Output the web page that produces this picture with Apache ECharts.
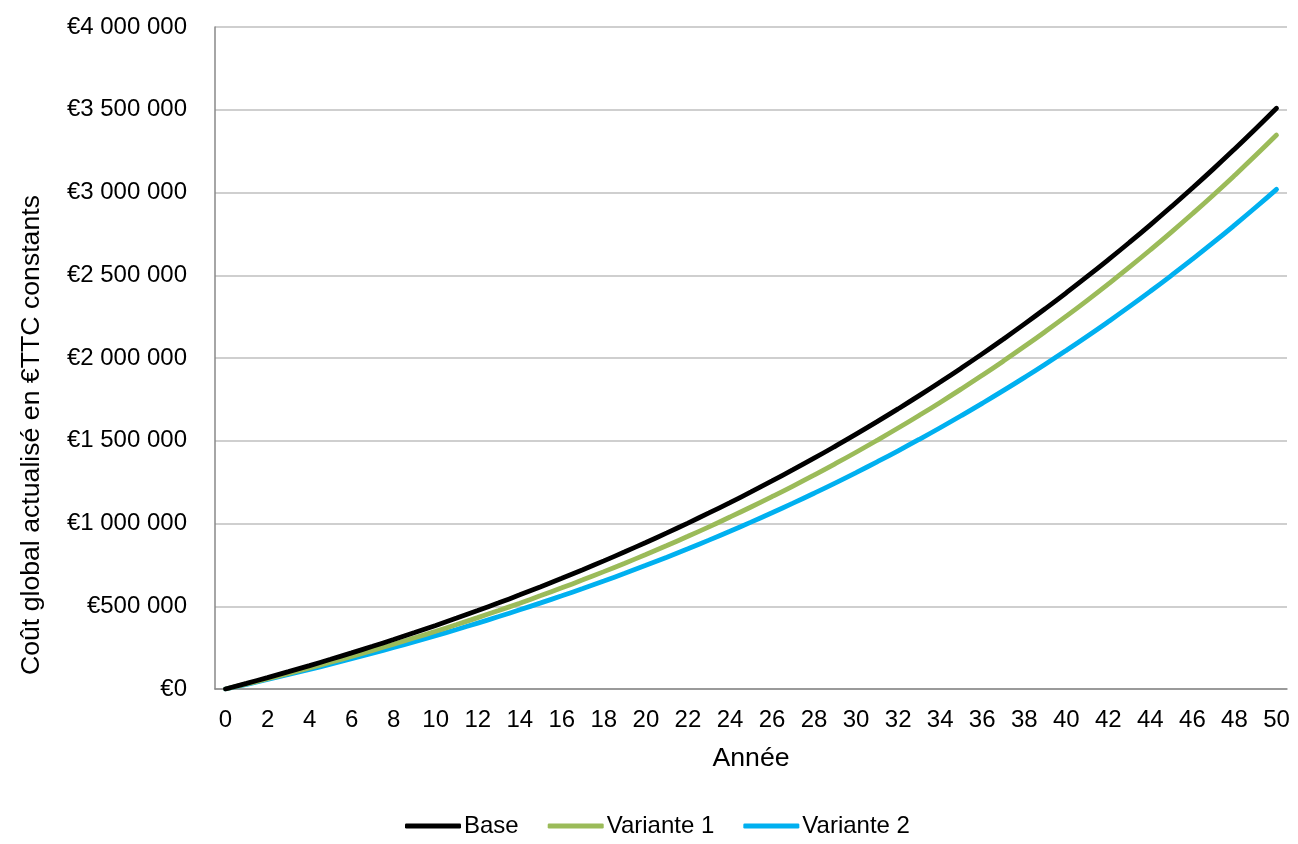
<!DOCTYPE html>
<html>
<head>
<meta charset="utf-8">
<script src="https://cdn.jsdelivr.net/npm/echarts@6/dist/echarts.min.js"></script>
<style>
html,body{margin:0;padding:0;background:#fff;}
#c{width:1298px;height:844px;}
</style>
</head>
<body>
<div id="c"></div>
<script>
const years = [];
for (let i = 0; i <= 50; i++) years.push(String(i));

const seriesNames = ['Base', 'Variante 1', 'Variante 2'];

const base = [0, 34000, 68900, 104700, 141500, 179300, 218100, 257900, 298900, 340900,
  384100, 428400, 474000, 520700, 568800, 618100, 668700, 720800, 774200, 829100,
  885400, 943300, 1002700, 1063800, 1126500, 1190900, 1257000, 1324900, 1394600, 1466300,
  1539800, 1615400, 1693000, 1772600, 1854500, 1938500, 2024800, 2113500, 2204500, 2298000,
  2394000, 2492600, 2593900, 2697900, 2804700, 2914400, 3027000, 3142700, 3261600, 3383600,
  3508900];

const variante1 = [0, 30600, 62000, 94400, 127700, 161900, 197200, 233500, 270800, 309200,
  348700, 389400, 431300, 474300, 518700, 564300, 611200, 659500, 709200, 760300,
  812900, 867000, 922700, 980000, 1039000, 1099700, 1162200, 1226400, 1292600, 1360600,
  1430600, 1502700, 1576800, 1653100, 1731600, 1812400, 1895500, 1981000, 2069000, 2159600,
  2252800, 2348700, 2447400, 2548900, 2653400, 2760900, 2871500, 2985300, 3102500, 3223000,
  3347000];

const variante2 = [0, 28400, 57600, 87600, 118400, 150100, 182700, 216200, 250600, 286000,
  322400, 359800, 398300, 437800, 478500, 520300, 563200, 607400, 652800, 699400,
  747400, 796700, 847400, 899500, 953100, 1008200, 1064800, 1123000, 1182800, 1244300,
  1307600, 1372600, 1439400, 1508100, 1578700, 1651300, 1725900, 1802600, 1881500, 1962500,
  2045900, 2131500, 2219600, 2310100, 2403200, 2498900, 2597200, 2698300, 2802300, 2909100,
  3019000];

const colors = ['#000000', '#9BBB59', '#00B0F0'];
const FONT = '"Liberation Sans", Arial, sans-serif';

function fmtEuro(v) {
  const s = Math.round(v).toString().replace(/\B(?=(\d{3})+(?!\d))/g, ' ');
  return '€' + s;
}

const chart = echarts.init(document.getElementById('c'), null, {renderer: 'canvas'});
const dataSets = [base, variante1, variante2];

chart.setOption({
  animation: false,
  backgroundColor: '#ffffff',
  textStyle: {fontFamily: FONT},
  grid: {left: 215, right: 11, top: 27, bottom: 155, containLabel: false},
  legend: {
    data: seriesNames,
    left: 400,
    top: 809,
    icon: 'roundRect',
    itemWidth: 56,
    itemHeight: 5,
    itemGap: 29,
    textStyle: {fontFamily: FONT, fontSize: 24, color: '#000', padding: [0, 0, 0, -2]}
  },
  xAxis: {
    type: 'category',
    data: years,
    boundaryGap: true,
    name: 'Année',
    nameLocation: 'middle',
    nameGap: 56,
    nameTextStyle: {fontFamily: FONT, fontSize: 26.67, color: '#000'},
    axisLine: {lineStyle: {color: '#898989', width: 1.5}},
    axisTick: {show: false},
    axisLabel: {interval: 1, fontFamily: FONT, fontSize: 24, color: '#000', margin: 19},
    splitLine: {show: false}
  },
  yAxis: {
    type: 'value',
    min: 0,
    max: 4000000,
    interval: 500000,
    axisLine: {show: true, lineStyle: {color: '#898989', width: 1.5}},
    axisTick: {show: false},
    axisLabel: {fontFamily: FONT, fontSize: 24, color: '#000', margin: 28, formatter: fmtEuro},
    splitLine: {lineStyle: {color: '#BFBFBF', width: 1.5}}
  },
  graphic: [{
    type: 'text',
    left: 18,
    top: 195,
    rotation: Math.PI / 2,
    style: {
      text: 'Coût global actualisé en €TTC constants',
      fontFamily: FONT,
      fontSize: 26.67,
      fill: '#000'
    }
  }],
  series: seriesNames.map((n, i) => ({
    name: n,
    type: 'line',
    data: dataSets[i],
    smooth: true,
    showSymbol: false,
    symbol: 'none',
    lineStyle: {color: colors[i], width: 4.8, cap: 'round'},
    itemStyle: {color: colors[i]},
    z: 10 - i
  }))
});
</script>
</body>
</html>
